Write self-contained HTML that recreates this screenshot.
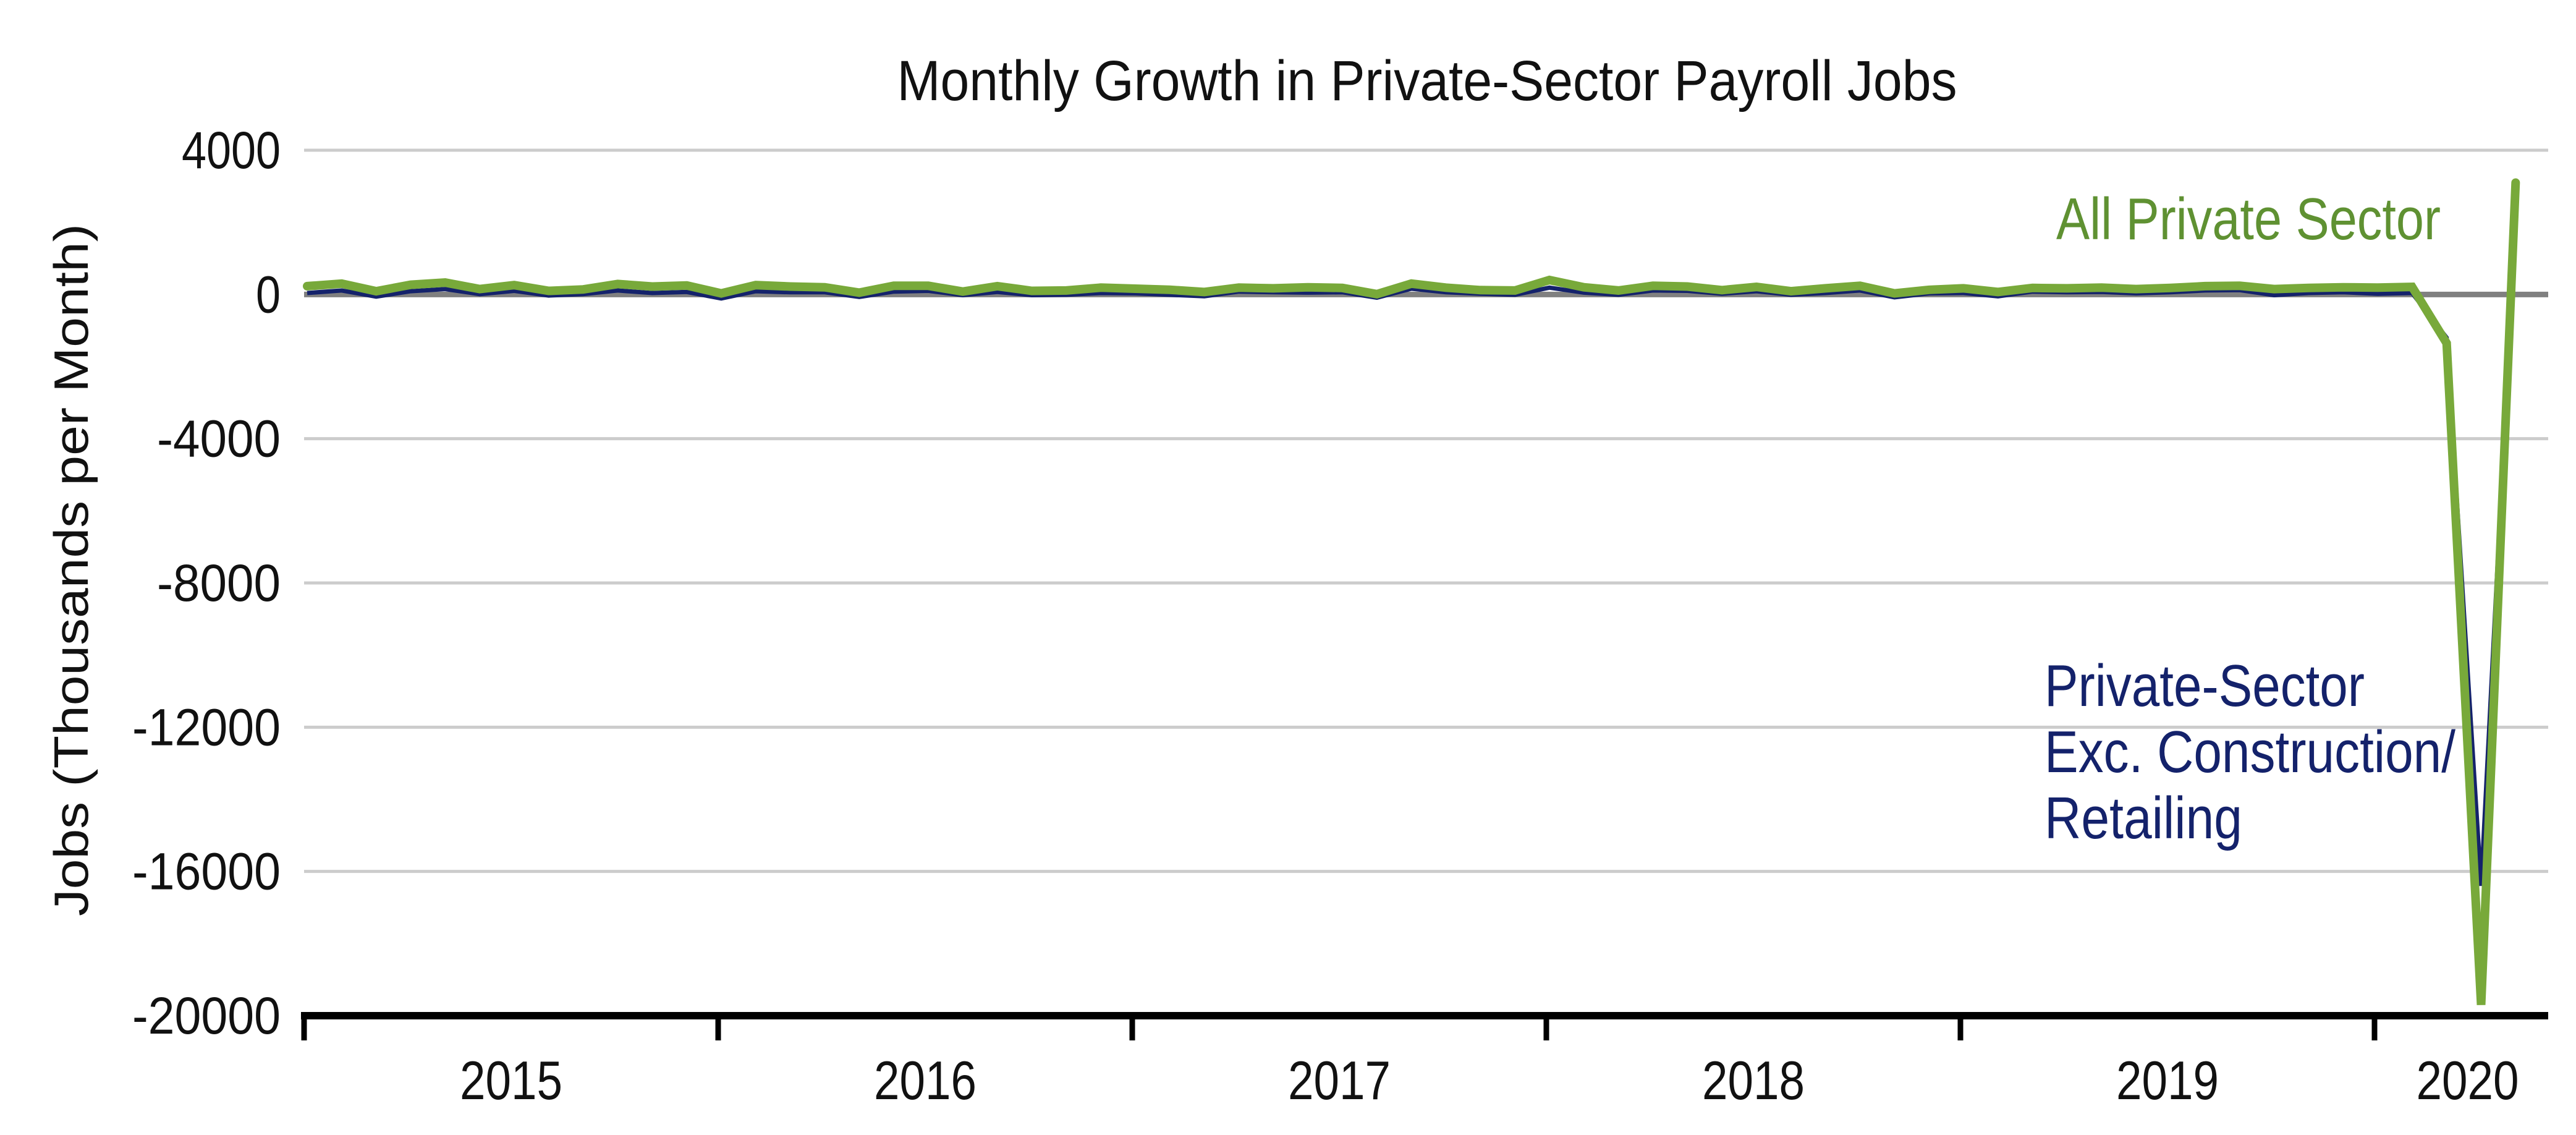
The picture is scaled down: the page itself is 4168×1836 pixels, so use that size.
<!DOCTYPE html>
<html><head><meta charset="utf-8"><style>
html,body{margin:0;padding:0;background:#fff;}
svg{display:block;}
text{font-family:"Liberation Sans Narrow","Liberation Sans",sans-serif;}
</style></head><body>
<svg id="chart" width="4168" height="1836" viewBox="0 0 4168 1836" xmlns="http://www.w3.org/2000/svg">
<text x="2309" y="162" font-size="92" text-anchor="middle" textLength="1715" lengthAdjust="spacingAndGlyphs" fill="#111">Monthly Growth in Private-Sector Payroll Jobs</text>
<text transform="translate(142,922) rotate(-90)" font-size="78" text-anchor="middle" textLength="1120" lengthAdjust="spacingAndGlyphs" fill="#111" style="font-family:'Liberation Sans',sans-serif">Jobs (Thousands per Month)</text>
<g id="grid"></g>
<g id="series"></g>
<g id="axes"></g>
<text x="3327" y="387" font-size="96" textLength="622" lengthAdjust="spacingAndGlyphs" fill="#5f9132">All Private Sector</text>
<text x="3308" y="1142" font-size="96" textLength="518" lengthAdjust="spacingAndGlyphs" fill="#14226b">Private-Sector</text>
<text x="3308" y="1249" font-size="96" textLength="665" lengthAdjust="spacingAndGlyphs" fill="#14226b">Exc. Construction/</text>
<text x="3308" y="1356" font-size="96" textLength="320" lengthAdjust="spacingAndGlyphs" fill="#14226b">Retailing</text>
</svg>
<script>
const yTicks=[4000,0,-4000,-8000,-12000,-16000,-20000];
const years=["2015","2016","2017","2018","2019","2020"];
const allPrivate=[230,300,90,270,330,150,260,100,140,290,220,250,
 30,260,220,200,50,240,240,80,230,100,110,190,
 160,130,70,190,170,200,180,10,300,190,120,110,
 400,200,110,240,220,120,210,90,170,240,30,130,
 170,70,180,170,190,150,180,230,240,150,180,200,
 190,210,
 -1350,-19700,3100];
const excConst=[40,110,-60,90,150,10,100,-30,10,110,40,70,
 -110,90,60,60,-70,80,100,-20,70,-20,-10,40,
 30,-10,-50,80,60,50,60,-90,160,60,20,-10,
 190,50,-10,110,100,20,90,-10,40,110,-80,30,
 40,-50,80,60,70,30,60,110,120,-20,40,60,
 20,40,
 -1200,-16400,2300];
const yMin=-20000,yMax=4000,yTop=243,yBot=1643;
function Y(v){return yTop+(yMax-v)/(yMax-yMin)*(yBot-yTop);}
const x0=492,monthW=(3842-492)/60;
function X(i){return x0+5+i*monthW;}
const NS="http://www.w3.org/2000/svg";
function mk(tag,attrs,parent){const e=document.createElementNS(NS,tag);for(const k in attrs)e.setAttribute(k,attrs[k]);parent.appendChild(e);return e;}
const grid=document.getElementById('grid'),series=document.getElementById('series'),axes=document.getElementById('axes');
yTicks.forEach(v=>{
 if(v!==0&&v!==yMin){
  const l=mk('line',{x1:x0,x2:4123,y1:Y(v),y2:Y(v),stroke:'#cccccc','stroke-width':5},grid);
  
  
 }
 const s=String(v);
 const t=mk('text',{x:454,y:Y(v)+29,'font-size':84,'text-anchor':'end',fill:'#111',textLength:Math.round(s.length*40),lengthAdjust:'spacingAndGlyphs'},axes);
 
 
 t.textContent=s;
});
const z=mk('line',{x1:x0,x2:4123,y1:Y(0),y2:Y(0),stroke:'#808080','stroke-width':9},grid);


function pts(arr){return arr.map((v,i)=>X(i).toFixed(1)+','+Y(v).toFixed(1)).join(' ');}
const n=mk('polyline',{points:pts(excConst),fill:'none',stroke:'#14226b','stroke-width':7,'stroke-linejoin':'miter'},series);


const g=mk('polyline',{points:pts(allPrivate),fill:'none',stroke:'#78a93a','stroke-width':14,'stroke-linejoin':'miter','stroke-linecap':'round'},series);


const ax=mk('line',{x1:x0-5,x2:4123,y1:1643,y2:1643,stroke:'#000','stroke-width':12},axes);


years.forEach((yr,k)=>{
 const tx=x0+k*12*monthW;
 const tk=mk('line',{x1:tx,x2:tx,y1:1643,y2:1683,stroke:'#000','stroke-width':9},axes);
 
 
 const cx=(k===5)?(tx+4123)/2+10:tx+6*monthW;
 const t=mk('text',{x:cx,y:1778,'font-size':88,'text-anchor':'middle',fill:'#111',textLength:166,lengthAdjust:'spacingAndGlyphs'},axes);
 
 
 t.textContent=yr;
});
</script>
</body></html>
